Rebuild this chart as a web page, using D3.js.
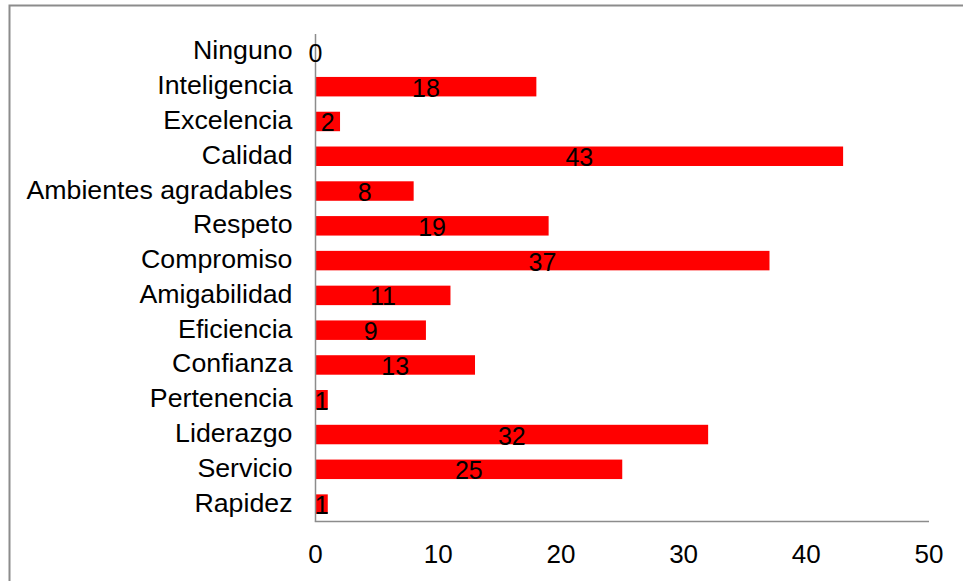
<html lang="es">
<head>
  <meta http-equiv="Content-Type" content="text/html; charset=utf-8" />
  <script src="https://d3js.org/d3.v7.min.js"></script>
  <style>
    body { margin: 0; background: #fff; }
  </style>
</head>
<body>
  <div id="chart"></div>
  <script>
    'use strict';
    const width = 963;
    const height = 581;
    const fontFamily = "'Liberation Sans', Arial, sans-serif";

    // data, top to bottom as drawn
    const categories = ["Ninguno", "Inteligencia", "Excelencia", "Calidad", "Ambientes agradables",
      "Respeto", "Compromiso", "Amigabilidad", "Eficiencia", "Confianza",
      "Pertenencia", "Liderazgo", "Servicio", "Rapidez"];
    const values = [0, 18, 2, 43, 8, 19, 37, 11, 9, 13, 1, 32, 25, 1];
    const xTicks = [0, 10, 20, 30, 40, 50];

    const svg = d3.select("#chart")
      .append("svg")
      .attr("width", width)
      .attr("height", height);

    // outer frame of the chart area
    svg.append("rect")
      .attr("x", 9.5).attr("y", 5.5)
      .attr("width", 980).attr("height", 600)
      .attr("fill", "none")
      .attr("stroke", "#8c8c8c")
      .attr("stroke-width", 2);

    const x = d3.scaleLinear().domain([0, 50]).range([315.5, 929]);
    const y = d3.scaleBand().domain(categories).range([34.5, 521.5])
      .paddingInner(0.44).paddingOuter(0.22);

    // bars
    svg.selectAll("rect.bar")
      .data(values)
      .join("rect")
      .attr("class", "bar")
      .attr("x", x(0))
      .attr("y", (d, i) => y(categories[i]))
      .attr("width", d => x(d) - x(0))
      .attr("height", y.bandwidth())
      .attr("fill", "#ff0000");

    // axes lines
    svg.append("line")
      .attr("x1", x(0)).attr("x2", x(0))
      .attr("y1", 34).attr("y2", 521.5)
      .attr("stroke", "#8c8c8c").attr("stroke-width", 1.5);
    svg.append("line")
      .attr("x1", x(0) - 0.75).attr("x2", x(50))
      .attr("y1", 521.5).attr("y2", 521.5)
      .attr("stroke", "#8c8c8c").attr("stroke-width", 1.5);

    // category labels (slightly wide, like the original)
    const stretch = 1.07;
    svg.selectAll("text.cat")
      .data(categories)
      .join("text")
      .attr("class", "cat")
      .attr("transform", d => `translate(${x(0) - 23}, ${y(d) + y.bandwidth() / 2 + 7.5}) scale(${stretch},1)`)
      .attr("text-anchor", "end")
      .style("font-family", fontFamily)
      .style("font-size", "25px")
      .attr("fill", "#000")
      .text(d => d);

    // value labels centered in bars
    svg.selectAll("text.val")
      .data(values)
      .join("text")
      .attr("class", "val")
      .attr("x", d => (x(0) + x(d)) / 2)
      .attr("y", (d, i) => y(categories[i]) + y.bandwidth() / 2 + 10)
      .attr("text-anchor", "middle")
      .style("font-family", fontFamily)
      .style("font-size", "25px")
      .attr("fill", "#000")
      .text(d => d);

    // tick labels
    svg.selectAll("text.tick")
      .data(xTicks)
      .join("text")
      .attr("class", "tick")
      .attr("x", d => x(d))
      .attr("y", 563)
      .attr("text-anchor", "middle")
      .style("font-family", fontFamily)
      .style("font-size", "26px")
      .attr("fill", "#000")
      .text(d => d);
  </script>
</body>
</html>
